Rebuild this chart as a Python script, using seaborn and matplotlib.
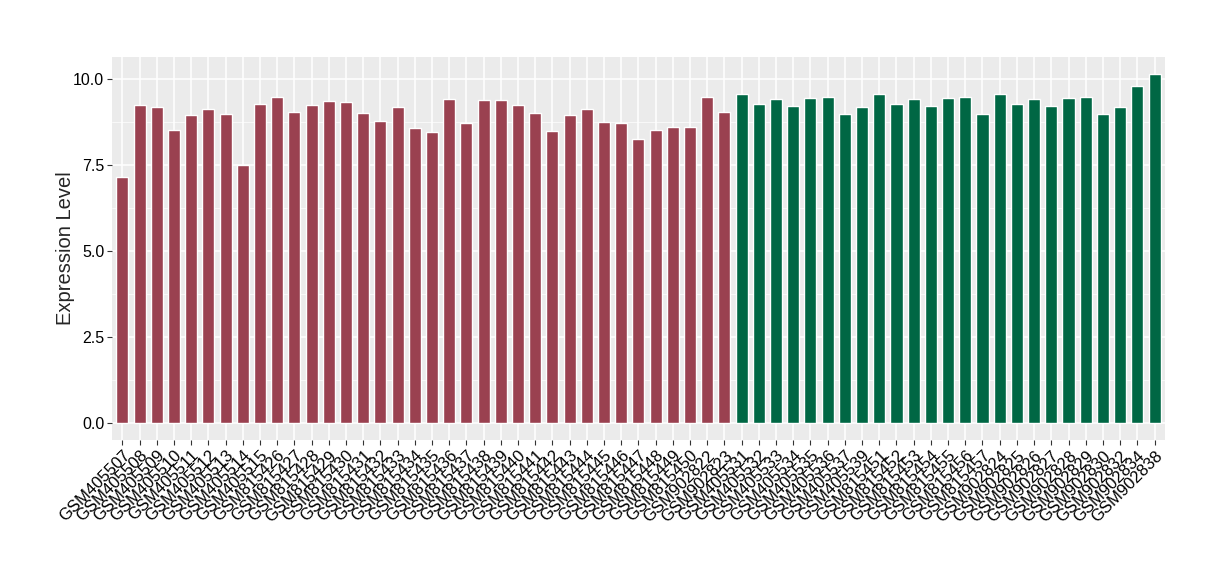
import matplotlib
matplotlib.use("Agg")
import matplotlib.pyplot as plt
import seaborn as sns
import pandas as pd
from matplotlib.ticker import MultipleLocator

group1_samples = ["GSM405507", "GSM405508", "GSM405509", "GSM405510", "GSM405511",
                  "GSM405512", "GSM405513", "GSM405514", "GSM405515",
                  "GSM815426", "GSM815427", "GSM815428", "GSM815429", "GSM815430",
                  "GSM815431", "GSM815432", "GSM815433", "GSM815434", "GSM815435",
                  "GSM815436", "GSM815437", "GSM815438", "GSM815439", "GSM815440",
                  "GSM815441", "GSM815442", "GSM815443", "GSM815444", "GSM815445",
                  "GSM815446", "GSM815447", "GSM815448", "GSM815449", "GSM815450",
                  "GSM902822", "GSM902823"]
group1_values = [7.15, 9.24, 9.19, 8.52, 8.95, 9.12, 8.97, 7.50, 9.26, 9.47,
                 9.03, 9.24, 9.35, 9.33, 9.00, 8.77, 9.19, 8.58, 8.46, 9.42,
                 8.72, 9.39, 9.39, 9.23, 9.00, 8.49, 8.94, 9.12, 8.75, 8.72,
                 8.26, 8.50, 8.59, 8.59, 9.48, 9.04]

group2_samples = ["GSM405531", "GSM405532", "GSM405533", "GSM405534", "GSM405535",
                  "GSM405536", "GSM405537", "GSM405539",
                  "GSM815451", "GSM815452", "GSM815453", "GSM815454", "GSM815455",
                  "GSM815456", "GSM815457",
                  "GSM902824", "GSM902825", "GSM902826", "GSM902827", "GSM902828",
                  "GSM902829", "GSM902830", "GSM902832", "GSM902834", "GSM902838"]
group2_values = [9.57, 9.28, 9.40, 9.22, 9.43, 9.46, 8.99, 9.17, 9.57, 9.28,
                 9.40, 9.22, 9.43, 9.46, 8.99, 9.57, 9.28, 9.40, 9.22, 9.43,
                 9.46, 8.99, 9.17, 9.78, 10.13]

group_colors = {"group1": "#9A4150", "group2": "#006744"}

df = pd.DataFrame({
    "sample": group1_samples + group2_samples,
    "value": group1_values + group2_values,
    "group": ["group1"] * len(group1_samples) + ["group2"] * len(group2_samples),
})

sns.set_theme(style="darkgrid")
plt.rcParams["font.family"] = ["Liberation Sans", "DejaVu Sans"]

fig = plt.figure(figsize=(12.2, 5.8), dpi=100)
ax = fig.add_axes([0.0918, 0.241, 0.863, 0.661])
ax.set_facecolor("#EBEBEB")

sns.barplot(data=df, x="sample", y="value", hue="group", palette=group_colors,
            dodge=False, width=0.7, saturation=1, legend=False, ax=ax, zorder=3)

n = len(df)
ax.set_xlim(-0.6, n - 0.4)
ax.set_ylim(-0.506, 10.64)
ax.yaxis.set_minor_locator(MultipleLocator(1.25))
ax.set_yticks([0, 2.5, 5.0, 7.5, 10.0])
ax.set_yticklabels(["0.0", "2.5", "5.0", "7.5", "10.0"])

ax.grid(which="major", color="white", linewidth=1.1, zorder=0)
ax.grid(which="minor", axis="y", color="white", linewidth=0.5, zorder=0)
ax.set_axisbelow(True)
for s in ax.spines.values():
    s.set_visible(False)

ax.tick_params(axis="both", which="major", length=3.5, width=0.8, color="#333333",
               labelcolor="black", pad=2, bottom=True, left=True)
ax.tick_params(axis="both", which="minor", length=0)
plt.setp(ax.get_xticklabels(), rotation=45, ha="right", rotation_mode="anchor",
         fontsize=12)
plt.setp(ax.get_yticklabels(), fontsize=11.5)

ax.set_xlabel("")
ax.set_ylabel("Expression Level", fontsize=14.5)
ax.yaxis.set_label_coords(-0.035, 0.5)

fig.savefig("out.png", dpi=100)
